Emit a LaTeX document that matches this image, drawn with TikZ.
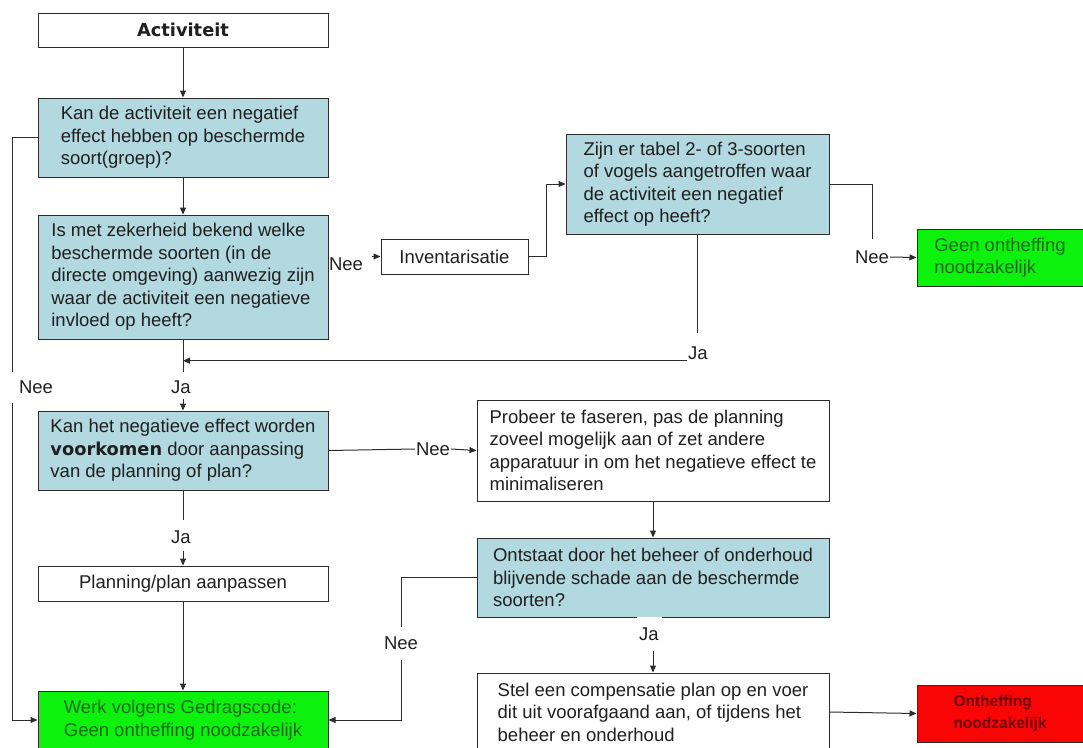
\documentclass[tikz,border=0pt]{standalone}
\usepackage{fontspec}
\setmainfont{Liberation Sans}
\newfontfamily\verdana{DejaVu Sans}
\usepackage{tikz}
\usetikzlibrary{arrows.meta}
\usepackage{xcolor}
\definecolor{qblue}{RGB}{178,216,224}
\definecolor{okgreen}{RGB}{12,242,12}
\definecolor{okgreentext}{RGB}{25,105,25}
\definecolor{nored}{RGB}{250,5,5}
\definecolor{noredtext}{RGB}{110,0,0}
\definecolor{linegray}{RGB}{45,45,45}

\begin{document}
\begin{tikzpicture}[x=1pt, y=-1pt,
    every node/.style={font=\fontsize{18.5}{22.5}\selectfont, text=black!88},
    box/.style={draw=linegray, line width=1pt, rectangle, align=left, inner sep=0pt},
    leftbox/.style={box, minimum width=290pt},
    midbox/.style={box, minimum width=352pt},
    vraag/.style={fill=qblue},
    goed/.style={box, fill=okgreen, text=okgreentext},
    fout/.style={box, fill=nored, text=noredtext, font=\fontsize{15.5}{22}\selectfont\bfseries},
    lbl/.style={inner sep=1pt},
    pijl/.style={draw=linegray, line width=1pt, -{Triangle[length=7pt,width=6pt]}},
    lijn/.style={draw=linegray, line width=1pt}]

    \useasboundingbox (0,0) rectangle (1083,747);

    % Points where the left line breaks for its label
    \coordinate (L1) at (12,372);  % top of the break
    \coordinate (L2) at (12,403);  % bottom of the break

    % Draw the boxes of the left column
    \node[leftbox, minimum height=34pt, font={\fontsize{17.8}{20}\selectfont\verdana\bfseries}] (Act) at (183,30) {Activiteit};
    \node[leftbox, vraag, minimum height=79pt] (Q1) at (183,137.5)
        {Kan de activiteit een negatief\\effect hebben op beschermde\\soort(groep)?};
    \node[leftbox, vraag, minimum height=124pt] (Q2) at (183,277)
        {Is met zekerheid bekend welke\\beschermde soorten (in de\\directe omgeving) aanwezig zijn\\waar de activiteit een negatieve\\invloed op heeft?};
    \node[leftbox, vraag, minimum height=79pt] (Q4) at (183,450.5)
        {Kan het negatieve effect worden\\{\fontsize{17.8}{22.5}\selectfont\verdana\bfseries voorkomen} door aanpassing\\van de planning of plan?};
    \node[leftbox, minimum height=35pt] (Plan) at (183,583.5) {Planning/plan aanpassen};
    \node[leftbox, goed, minimum height=58pt] (Werk) at (183,720)
        {Werk volgens Gedragscode:\\Geen ontheffing noodzakelijk};

    % Draw the boxes of the middle and right
    \node[box, minimum width=147pt, minimum height=35pt] (Inv) at (454.5,256.5) {Inventarisatie};
    \node[box, vraag, minimum width=263pt, minimum height=100pt] (Q3) at (697.5,184)
        {Zijn er tabel 2- of 3-soorten\\of vogels aangetroffen waar\\de activiteit een negatief\\effect op heeft?};
    \node[goed, minimum width=166pt, minimum height=57pt] (GeenA) at (1000,257.5)
        {Geen ontheffing\\noodzakelijk};
    \node[midbox, minimum height=101pt] (Probeer) at (653,450.5)
        {Probeer te faseren, pas de planning\\zoveel mogelijk aan of zet andere\\apparatuur in om het negatieve effect te\\minimaliseren};
    \node[midbox, vraag, minimum height=79pt] (Ontstaat) at (653,577.5)
        {Ontstaat door het beheer of onderhoud\\blijvende schade aan de beschermde\\soorten?};
    \node[midbox, minimum height=78pt] (Stel) at (653,712)
        {Stel een compensatie plan op en voer\\dit uit voorafgaand aan, of tijdens het\\beheer en onderhoud};
    \node[fout, minimum width=166pt, minimum height=57pt] (Onth) at (1000,713.5)
        {Ontheffing\\noodzakelijk};

    % Draw the labels
    \node[lbl] (neeInv) at (346,264) {Nee};
    \node[lbl] (neeGeen) at (872,257) {Nee};
    \node[lbl] (jaQ3) at (698,353) {Ja};
    \node[lbl] (jaQ2) at (181,387) {Ja};
    \node[lbl] (neeLinks) at (36,387) {Nee};
    \node[lbl] (neeQ4) at (433,449) {Nee};
    \node[lbl] (jaQ4) at (181,537) {Ja};
    \node[lbl, fill=white, minimum width=25pt, minimum height=34pt] (jaOnt) at (649,634) {Ja};
    \node[lbl] (neeOnt) at (401,643) {Nee};

    % Draw the connectors
    \draw[pijl] (Act) -- (Q1);
    \draw[pijl] (Q1) -- (Q2);
    \draw[lijn] (Q1.west) -| (L1);
    \draw[pijl] (L2) |- (Werk.west);
    \draw[pijl] ([xshift=8pt]neeInv.east |- Inv.west) -- (Inv.west);
    \draw[pijl] (Inv.east) -- ++(18,0) |- (Q3.west);
    \draw[lijn] (Q3.east) -| ([yshift=10pt]neeGeen.north);
    \draw[pijl] (neeGeen.east) -- (GeenA.west);
    \draw[lijn] (Q3.south) -- ([yshift=12pt]jaQ3.north -| Q3.south);
    \draw[pijl] (jaQ3.south west) -- (jaQ3.south west -| Q2.south);
    \draw[lijn] (Q2.south) -- ([yshift=7pt]jaQ2.north -| Q2.south);
    \draw[pijl] ([yshift=-4pt]jaQ2.south -| Q4.north) -- (Q4.north);
    \draw[lijn] (Q4.east) -- (neeQ4.west);
    \draw[pijl] (neeQ4.east) -- (Probeer.west);
    \draw[lijn] (Q4.south) -- ([yshift=9pt]jaQ4.north -| Q4.south);
    \draw[pijl] ([yshift=-6pt]jaQ4.south -| Plan.north) -- (Plan.north);
    \draw[pijl] (Plan) -- (Werk);
    \draw[pijl] (Probeer) -- (Ontstaat);
    \draw[pijl] (jaOnt.south -| Stel.north) -- (Stel.north);
    \draw[lijn] (Ontstaat.west) -| ([yshift=8pt]neeOnt.north);
    \draw[pijl] ([yshift=-9pt]neeOnt.south) |- (Werk.east);
    \draw[pijl] (Stel.east) -- (Onth.west);

\end{tikzpicture}
\end{document}
